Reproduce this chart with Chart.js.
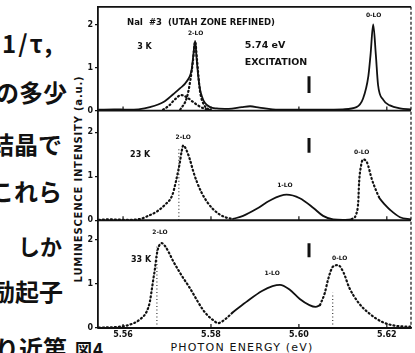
<!DOCTYPE html>
<html>
<head>
<meta charset="utf-8">
<script src="https://cdn.jsdelivr.net/npm/chart.js@4.4.1/dist/chart.umd.min.js"></script>
<style>
  html, body { margin: 0; padding: 0; background: #fff; }
  #wrap { position: relative; width: 415px; height: 353px; overflow: hidden; }
  #plot { position: absolute; left: 0; top: 0; }
  .jp { position: absolute; font-family: "Noto Sans CJK JP", sans-serif; font-weight: 700; font-size: 24px; letter-spacing: 0; color: #111; line-height: 1; white-space: nowrap; }
  #ylab { position: absolute; left: 78px; top: 179px; transform: translate(-50%, -50%) rotate(-90deg); font: bold 10px "DejaVu Sans", sans-serif; letter-spacing: 0.8px; white-space: nowrap; color: #111; }
  #xlab { position: absolute; left: 242px; top: 347px; transform: translate(-50%, -50%); font: 11px "DejaVu Sans", sans-serif; letter-spacing: 1.2px; white-space: nowrap; color: #111; }
</style>
</head>
<body>
<div id="wrap">
  <div class="jp" style="left:2px; top:31px; letter-spacing:2px;">1/τ,</div>
  <div class="jp" style="left:-5px; top:80px;">の多少</div>
  <div class="jp" style="left:-10px; top:132px;">結晶で</div>
  <div class="jp" style="left:-10px; top:179px;">これら</div>
  <div class="jp" style="left:18px; top:234px; font-size:22px;">しか</div>
  <div class="jp" style="left:-9px; top:279px;">励起子</div>
  <div class="jp" style="left:-5px; top:336px;">り近第</div>
  <div class="jp" style="left:75px; top:340px; font-size:17px; letter-spacing:1px;">図4</div>
  <div id="ylab">LUMINESCENCE INTENSITY (a.u.)</div>
  <div id="xlab">PHOTON ENERGY (eV)</div>
  <canvas id="plot" width="415" height="353"></canvas>
</div>
<script>
// photon energy (eV) / intensity (a.u.)

// 3 K panel
const top3kE = [5.5545, 5.558, 5.561, 5.5635, 5.5661, 5.5692, 5.5714, 5.5730, 5.5745, 5.5756, 5.5760, 5.5764, 5.5767, 5.5771, 5.5775, 5.5779, 5.5786, 5.5798, 5.5813, 5.584, 5.587, 5.5889, 5.591, 5.594, 5.598, 5.602, 5.606, 5.610, 5.6131, 5.6146, 5.6158, 5.6163, 5.6169, 5.6175, 5.6180, 5.6192, 5.6207, 5.6230, 5.6255];
const top3kI = [0.02, 0.03, 0.02, 0.03, 0.08, 0.20, 0.38, 0.52, 0.68, 0.95, 1.30, 1.62, 1.25, 0.80, 0.50, 0.34, 0.18, 0.08, 0.05, 0.04, 0.08, 0.10, 0.07, 0.03, 0.02, 0.02, 0.02, 0.03, 0.08, 0.28, 0.80, 1.30, 2.0, 1.30, 0.60, 0.25, 0.12, 0.05, 0.03];
const broad3kE = [5.5691, 5.5705, 5.5718, 5.5732, 5.5745, 5.5758, 5.5772, 5.5786, 5.5800];
const broad3kI = [0.02, 0.12, 0.26, 0.36, 0.31, 0.21, 0.11, 0.04, 0.01];
const narrow3kE = [5.5730, 5.5745, 5.5753, 5.5759, 5.5764, 5.5768, 5.5775, 5.5785, 5.5795];
const narrow3kI = [0.02, 0.30, 0.70, 1.15, 1.60, 1.20, 0.45, 0.12, 0.02];

// 23 K panel
const lo2_23E = [5.5545, 5.557, 5.5605, 5.5639, 5.5657, 5.5677, 5.5695, 5.5712, 5.5720, 5.5725, 5.5729, 5.5733, 5.5737, 5.5743, 5.5752, 5.5760, 5.5768, 5.5779, 5.5791, 5.5805, 5.5820, 5.5835, 5.585];
const lo2_23I = [0.01, 0.02, 0.01, 0.03, 0.10, 0.20, 0.35, 0.57, 0.87, 1.10, 1.30, 1.55, 1.70, 1.62, 1.38, 1.10, 0.87, 0.62, 0.42, 0.25, 0.13, 0.06, 0.03];
const lo1_23E = [5.585, 5.5873, 5.5904, 5.5934, 5.5972, 5.6002, 5.6033, 5.6055, 5.6078, 5.610, 5.612];
const lo1_23I = [0.03, 0.10, 0.26, 0.45, 0.58, 0.50, 0.28, 0.10, 0.02, 0.01, 0.02];
const lo0_23E = [5.612, 5.6130, 5.6135, 5.6137, 5.6140, 5.6146, 5.6155, 5.6166, 5.6177, 5.6184];
const lo0_23I = [0.02, 0.13, 0.42, 0.87, 1.16, 1.38, 1.31, 0.93, 0.64, 0.49];
const tail23E = [5.6184, 5.6195, 5.6207, 5.6230, 5.6255];
const tail23I = [0.49, 0.36, 0.24, 0.07, 0.02];

// 33 K panel
const lo2_33E = [5.5545, 5.558, 5.561, 5.5639, 5.5654, 5.5661, 5.5665, 5.5669, 5.5673, 5.5676, 5.5680, 5.5688, 5.5695, 5.5703, 5.5714, 5.5725, 5.5736, 5.5748, 5.5759, 5.5770, 5.5782, 5.5793, 5.5805, 5.5816, 5.5827, 5.5836, 5.5850];
const lo2_33I = [0.01, 0.02, 0.06, 0.20, 0.38, 0.60, 0.85, 1.12, 1.38, 1.63, 1.82, 1.93, 1.87, 1.74, 1.52, 1.33, 1.15, 0.97, 0.79, 0.60, 0.41, 0.28, 0.18, 0.11, 0.16, 0.23, 0.36];
const lo1_33E = [5.5850, 5.5884, 5.5916, 5.5940, 5.5957, 5.5978, 5.6002, 5.6024, 5.6038, 5.6048];
const lo1_33I = [0.36, 0.62, 0.84, 0.95, 0.98, 0.88, 0.66, 0.52, 0.48, 0.52];
const lo0_33E = [5.6048, 5.6059, 5.6066, 5.6077, 5.6089, 5.6102, 5.6114, 5.6136, 5.6159, 5.6189, 5.6220, 5.6255];
const lo0_33I = [0.52, 0.80, 1.09, 1.39, 1.43, 1.25, 0.93, 0.57, 0.34, 0.14, 0.05, 0.03];

// dotted peak markers [energy, top of marker]
const mark23 = [[5.5727, 1.65]];
const mark33 = [[5.5677, 1.85], [5.6077, 0.8]];
// excitation energy bar drawn in each panel: [low, high]
const excE = 5.6023;
const excBars = { yTop: [0.41, 0.80], yMid: [1.53, 1.87], yBot: [1.61, 1.93] };

const xTicks = [5.56, 5.58, 5.60, 5.62];
const yTicks = [0, 1, 2];

const ink = '#111';
const pts = (xs, ys) => xs.map((x, i) => ({ x: x, y: ys[i] }));

function curve(xs, ys, axis, dotted) {
    return {
        data: pts(xs, ys),
        yAxisID: axis,
        borderColor: ink,
        borderWidth: dotted ? 2.2 : 1.8,
        borderDash: dotted ? [1, 3] : [],
        borderCapStyle: 'round',
        pointRadius: 0,
        cubicInterpolationMode: 'monotone',
        fill: false
    };
}
function vline(e, lo, hi, axis, dotted, w) {
    return {
        data: [{ x: e, y: lo }, { x: e, y: hi }],
        yAxisID: axis,
        borderColor: ink,
        borderWidth: w,
        borderDash: dotted ? [1, 2.5] : [],
        pointRadius: 0
    };
}

const datasets = [
    curve(top3kE, top3kI, 'yTop', false),
    curve(broad3kE, broad3kI, 'yTop', true),
    curve(narrow3kE, narrow3kI, 'yTop', true),
    curve(lo2_23E, lo2_23I, 'yMid', true),
    curve(lo1_23E, lo1_23I, 'yMid', false),
    curve(lo0_23E, lo0_23I, 'yMid', true),
    curve(tail23E, tail23I, 'yMid', false),
    curve(lo2_33E, lo2_33I, 'yBot', true),
    curve(lo1_33E, lo1_33I, 'yBot', false),
    curve(lo0_33E, lo0_33I, 'yBot', true)
];
mark23.forEach(m => datasets.push(vline(m[0], 0, m[1], 'yMid', true, 1)));
mark33.forEach(m => datasets.push(vline(m[0], 0, m[1], 'yBot', true, 1)));
Object.keys(excBars).forEach(a => datasets.push(vline(excE, excBars[a][0], excBars[a][1], a, false, 3)));

// text on the plot, placed in data coordinates
const notes = [
    ['yTop', 5.5609, 2.05, 'NaI  #3  (UTAH ZONE REFINED)', 'bold 8.5px "DejaVu Sans"', 'left'],
    ['yTop', 5.5632, 1.48, '3 K', 'bold 8px "DejaVu Sans"', 'left'],
    ['yTop', 5.5765, 1.80, '2-LO', 'bold 6px "DejaVu Sans"', 'center'],
    ['yTop', 5.5877, 1.50, '5.74 eV', 'bold 9.5px "DejaVu Sans"', 'left'],
    ['yTop', 5.5877, 1.11, 'EXCITATION', 'bold 9.5px "DejaVu Sans"', 'left'],
    ['yTop', 5.6170, 2.20, '0-LO', 'bold 6px "DejaVu Sans"', 'center'],
    ['yMid', 5.5737, 1.87, '2-LO', 'bold 6px "DejaVu Sans"', 'center'],
    ['yMid', 5.5616, 1.49, '23 K', 'bold 8px "DejaVu Sans"', 'left'],
    ['yMid', 5.5968, 0.78, '1-LO', 'bold 6px "DejaVu Sans"', 'center'],
    ['yMid', 5.6143, 1.53, '0-LO', 'bold 6px "DejaVu Sans"', 'center'],
    ['yBot', 5.5684, 2.18, '2-LO', 'bold 6px "DejaVu Sans"', 'center'],
    ['yBot', 5.5618, 1.55, '33 K', 'bold 8px "DejaVu Sans"', 'left'],
    ['yBot', 5.5939, 1.23, '1-LO', 'bold 6px "DejaVu Sans"', 'center'],
    ['yBot', 5.6093, 1.59, '0-LO', 'bold 6px "DejaVu Sans"', 'center']
];

const framePlugin = {
    id: 'frame',
    afterDatasetsDraw(chart) {
        const ctx = chart.ctx, a = chart.chartArea, xs = chart.scales.x;
        ctx.save();
        ctx.strokeStyle = ink;
        ctx.lineWidth = 1.8;
        ctx.beginPath();
        ctx.moveTo(a.left, a.top); ctx.lineTo(a.right, a.top);
        ['yTop', 'yMid', 'yBot'].forEach(id => {
            const y0 = chart.scales[id].getPixelForValue(0);
            ctx.moveTo(a.left, y0); ctx.lineTo(a.right, y0);
        });
        ctx.stroke();
        ctx.lineWidth = 1.2;
        ctx.beginPath();
        ['yTop', 'yMid', 'yBot'].forEach(id => {
            const y0 = chart.scales[id].getPixelForValue(0);
            xTicks.forEach(t => {
                const px = xs.getPixelForValue(t);
                ctx.moveTo(px, y0); ctx.lineTo(px, y0 - 4);
            });
        });
        ctx.stroke();
        ctx.setLineDash([3, 2]);
        ctx.beginPath();
        ctx.moveTo(a.right, a.top); ctx.lineTo(a.right, a.bottom);
        ctx.stroke();
        ctx.setLineDash([]);
        ctx.fillStyle = ink;
        ctx.textBaseline = 'middle';
        notes.forEach(n => {
            ctx.font = n[4];
            ctx.textAlign = n[5];
            ctx.fillText(n[3], xs.getPixelForValue(n[1]), chart.scales[n[0]].getPixelForValue(n[2]));
        });
        ctx.restore();
    }
};

function yAxis(weight, max) {
    return {
        type: 'linear',
        position: 'left',
        stack: 'panels',
        stackWeight: weight,
        min: 0,
        max: max,
        afterFit: s => { s.width = 20; },
        grid: { drawOnChartArea: false, drawTicks: true, tickLength: 3, color: ink, lineWidth: 1.2 },
        border: { color: ink, width: 1.8 },
        ticks: {
            stepSize: 1,
            includeBounds: false,
            padding: 2,
            color: ink,
            font: { family: 'DejaVu Sans', size: 8, weight: 'bold' },
            callback: v => (yTicks.includes(v) ? String(v) : '')
        }
    };
}

new Chart(document.getElementById('plot'), {
    type: 'line',
    data: { datasets: datasets },
    options: {
        responsive: false,
        animation: false,
        events: [],
        layout: { padding: { left: 78, right: 4, top: 3, bottom: 3 } },
        plugins: { legend: { display: false }, tooltip: { enabled: false } },
        scales: {
            x: {
                type: 'linear',
                min: 5.5543,
                max: 5.6255,
                afterFit: s => { s.height = 22; },
                afterBuildTicks: s => { s.ticks = xTicks.map(v => ({ value: v })); },
                grid: { display: false, drawTicks: false },
                border: { color: ink, width: 1.8 },
                ticks: {
                    padding: 2,
                    color: ink,
                    maxRotation: 0,
                    font: { family: 'DejaVu Sans', size: 8, weight: 'bold' },
                    callback: v => v.toFixed(2)
                }
            },
            // stacked axes are laid out bottom-up
            yBot: yAxis(109, 2.45),
            yMid: yAxis(111, 2.49),
            yTop: yAxis(105, 2.41)
        }
    },
    plugins: [framePlugin]
});
</script>
</body>
</html>
